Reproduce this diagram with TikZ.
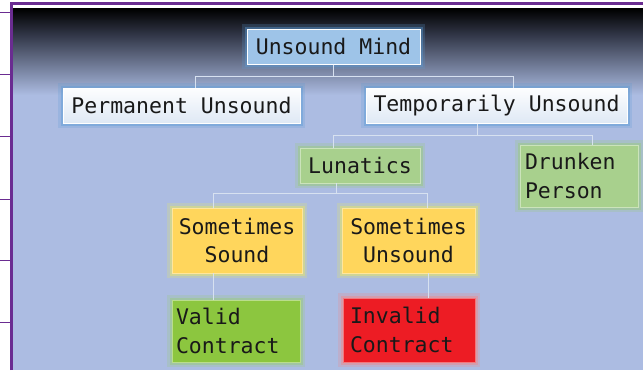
\documentclass[tikz,border=0pt]{standalone}
\usepackage{fontspec}
\usepackage{xcolor}
\usepackage{tikz}
\usetikzlibrary{positioning,shapes}

\newfontfamily\chartfont{DejaVu Sans Mono}

\definecolor{framepurple}{RGB}{106,44,145}
\definecolor{panelblue}{RGB}{172,188,226}
\definecolor{panelgray}{RGB}{50,55,72}
\definecolor{mindblue}{RGB}{158,196,232}
\definecolor{paleblue}{RGB}{234,239,247}
\definecolor{lunagreen}{RGB}{168,208,141}
\definecolor{soundgold}{RGB}{255,214,92}
\definecolor{validgreen}{RGB}{140,198,63}
\definecolor{invalidred}{RGB}{237,28,36}
\definecolor{glowblue}{RGB}{91,155,213}
\definecolor{glowgreen}{RGB}{150,205,110}
\definecolor{glowyellow}{RGB}{235,235,90}
\definecolor{glowred}{RGB}{245,130,130}
\definecolor{linkgray}{RGB}{215,225,240}

\begin{document}
	\begin{tikzpicture}[
		x=1pt, y=-1pt,
		glow/.style={preaction={draw=#1, line width=10pt, draw opacity=0.22},
			preaction={draw=#1, line width=5pt, draw opacity=0.4}},
		block/.style={rectangle, inner sep=0pt, font=\chartfont\fontsize{21.5}{28.5}\selectfont, text=black!90, align=center},
		mindbox/.style={block, fill=mindblue, draw=white, line width=1pt, glow=glowblue},
		kindbox/.style={block, top color=white!90!paleblue, bottom color=paleblue!85!mindblue, draw=white, line width=1pt, glow=glowblue},
		lunabox/.style={block, fill=lunagreen, draw=lunagreen!60!white, line width=0.8pt, glow=glowgreen},
		soundbox/.style={block, fill=soundgold, draw=soundgold!60!white, line width=0.8pt, glow=glowyellow},
		validbox/.style={block, fill=validgreen, draw=validgreen!60!white, line width=0.8pt, glow=glowgreen},
		invalidbox/.style={block, fill=invalidred, draw=invalidred!60!white, line width=0.8pt, glow=glowred},
		link/.style={draw=linkgray, line width=1pt},
		]
		\useasboundingbox (0,0) rectangle (643,370);

		%Frame
		\fill[panelblue] (13,8.7) rectangle (643,370);
		\shade[top color=black, bottom color=panelgray] (13,8.7) rectangle (643,35);
		\shade[top color=panelgray, bottom color=panelblue] (13,35) rectangle (643,95);
		\draw[framepurple, line width=2.7pt] (11.3,370) -- (11.3,3.3) -- (643,3.3);
		\foreach \ty in {12.7,74,136,199,260,322}
			\draw[framepurple, line width=1pt] (0,\ty) -- (10,\ty);

		%Main Nodes
		\node[mindbox, minimum width=173pt, minimum height=35pt]	(mind)	at (333.5,46.5)	{Unsound Mind};
		\node[kindbox, minimum width=237pt, minimum height=35pt]	(perm)	at (181.5,105.5)	{Permanent Unsound};
		\node[kindbox, minimum width=261pt, minimum height=35pt]	(temp)	at (496.5,105.5)	{Temporarily Unsound};

		%Temporarily Unsound
		\node[lunabox, minimum width=120pt, minimum height=35pt]	(luna)	at (360,165.5)	{Lunatics};
		\node[lunabox, minimum width=118pt, minimum height=62pt, text width=108pt, align=left]	(drunk)	at (579,176)	{Drunken\\Person};

		%Lunatics
		\node[soundbox, minimum width=130pt, minimum height=65pt]	(sound)	at (237,240.5)	{Sometimes\\Sound};
		\node[soundbox, minimum width=133pt, minimum height=65pt]	(unsnd)	at (408.5,240.5)	{Sometimes\\Unsound};

		%Contracts
		\node[validbox, minimum width=128pt, minimum height=62pt, text width=120pt, align=left]	(valid)	at (236,331)	{Valid\\Contract};
		\node[invalidbox, minimum width=132pt, minimum height=64pt, text width=118pt, align=left]	(invalid)	at (409,330)	{Invalid\\Contract};

		%Main Lines
		\draw[link] (mind.south) -- ++(0,12) -| ([xshift=13.5pt]perm.north);
		\draw[link] (mind.south) -- ++(0,12) -| ([xshift=16.5pt]temp.north);
		\draw[link] ([xshift=-19.5pt]temp.south) -- ++(0,12) -| ([xshift=-27pt]luna.north);
		\draw[link] ([xshift=-19.5pt]temp.south) -- ++(0,12) -| ([xshift=13pt]drunk.north);
		\draw[link] ([xshift=-24pt]luna.south) -- ++(0,10) -| ([xshift=-24pt]sound.north);
		\draw[link] ([xshift=-24pt]luna.south) -- ++(0,10) -| ([xshift=18.5pt]unsnd.north);
		\draw[link] ([xshift=-24pt]sound.south) -- ([xshift=-24pt]sound.south |- valid.north);
		\draw[link] ([xshift=19.5pt]unsnd.south) -- ([xshift=19.5pt]unsnd.south |- invalid.north);

	\end{tikzpicture}
\end{document}
